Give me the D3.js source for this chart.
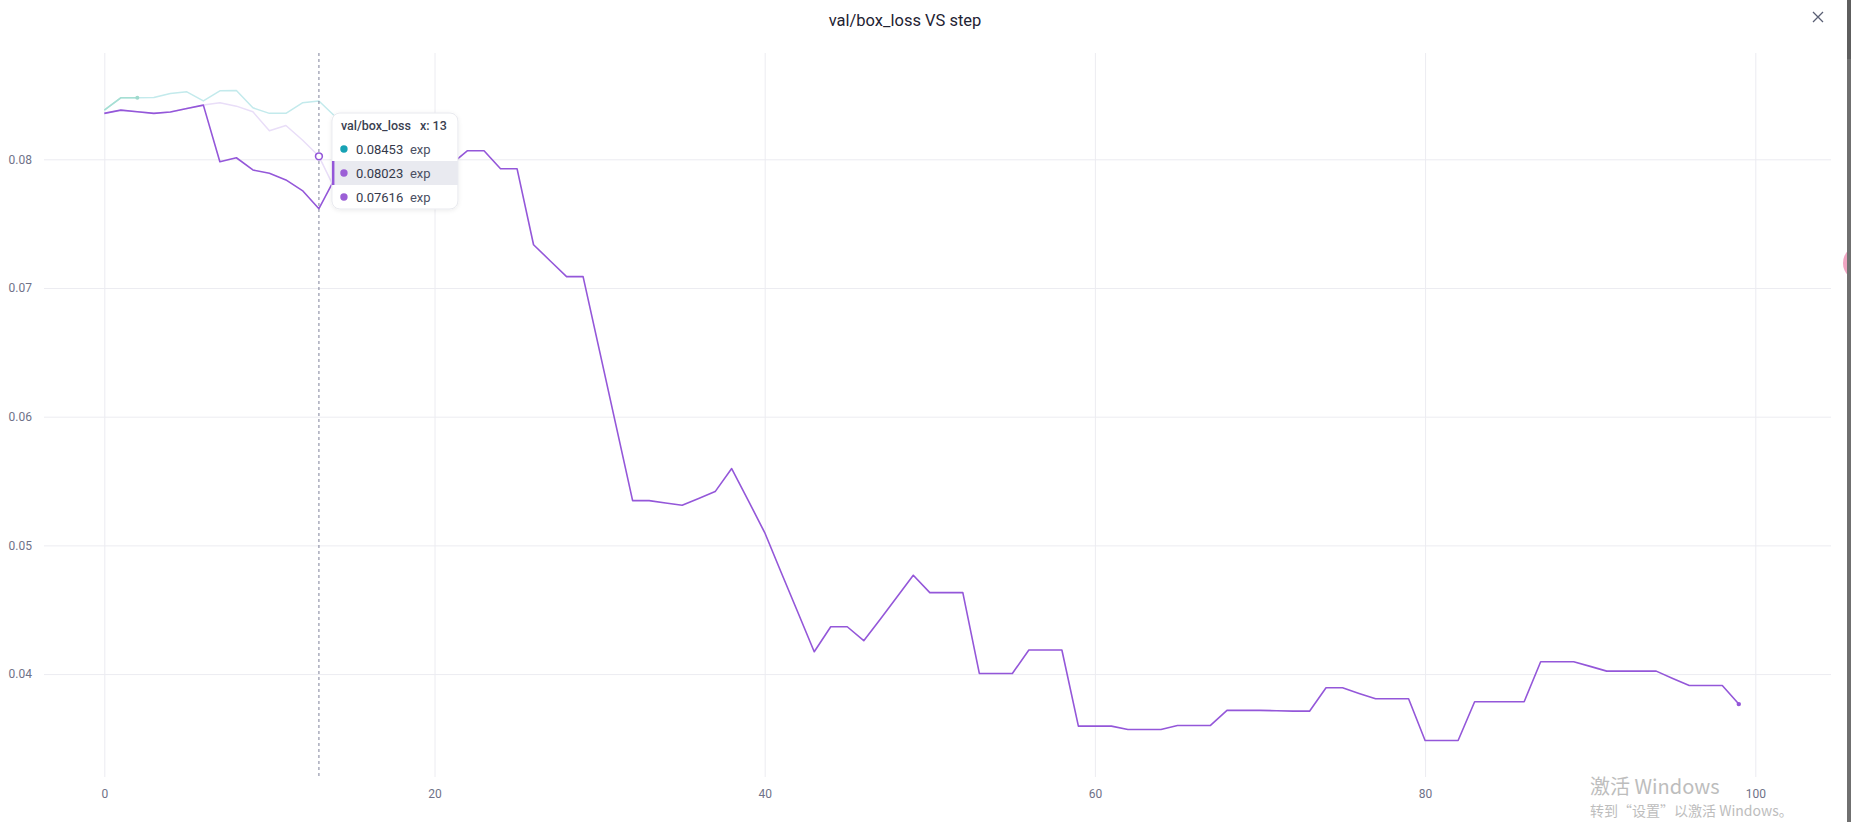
<!DOCTYPE html>
<html>
<head>
<meta charset="utf-8">
<script src="https://cdn.jsdelivr.net/npm/d3@7"></script>
<style>
  html, body { margin: 0; padding: 0; background: #fff; overflow: hidden; }
  svg { display: block; font-family: Roboto, "Noto Sans", sans-serif; }
</style>
</head>
<body>
<svg id="chart" width="1851" height="822"></svg>
<script>
// ---------------- DATA ----------------
const chartTitle = "val/box_loss VS step";
const metricName = "val/box_loss";
const hoverStep = 13;
const xTicks = [0, 20, 40, 60, 80, 100];
const yTicks = [0.04, 0.05, 0.06, 0.07, 0.08];

// main run (purple, full length)
const lossMain = [
  0.08357, 0.08382, 0.08370, 0.08357, 0.08367, 0.08395, 0.08421, 0.07981, 0.08012, 0.07917,
  0.07891, 0.07840, 0.07757, 0.07616, 0.07860, 0.07900, 0.07930, 0.07970, 0.08000, 0.07970,
  0.07950, 0.07960, 0.08067, 0.08067, 0.07927, 0.07927, 0.07336, 0.07212, 0.07088, 0.07088,
  0.06510, 0.05929, 0.05348, 0.05348, 0.05330, 0.05312, 0.05364, 0.05418, 0.05597, 0.05350,
  0.05100, 0.04789, 0.04483, 0.04174, 0.04368, 0.04368, 0.04260, 0.04427, 0.04597, 0.04768,
  0.04633, 0.04633, 0.04633, 0.04005, 0.04005, 0.04005, 0.04187, 0.04187, 0.04187, 0.03596,
  0.03596, 0.03596, 0.03570, 0.03570, 0.03570, 0.03601, 0.03601, 0.03601, 0.03718, 0.03718,
  0.03718, 0.03715, 0.03712, 0.03712, 0.03894, 0.03894, 0.03850, 0.03808, 0.03808, 0.03808,
  0.03484, 0.03484, 0.03484, 0.03785, 0.03785, 0.03785, 0.03785, 0.04096, 0.04096, 0.04096,
  0.04060, 0.04023, 0.04023, 0.04023, 0.04023, 0.03966, 0.03912, 0.03912, 0.03912, 0.03767
];
// faded teal run (short)
const lossTeal = [
  0.08382, 0.08478, 0.08478, 0.08480, 0.08512, 0.08524, 0.08454, 0.08532, 0.08535, 0.08400,
  0.08357, 0.08357, 0.08439, 0.08453, 0.08330, 0.08260
];
// faded purple run (short)
const lossLilac = [
  0.08357, 0.08382, 0.08370, 0.08357, 0.08367, 0.08395, 0.08421, 0.08439, 0.08413, 0.08369,
  0.08222, 0.08263, 0.08150, 0.08023, 0.07760
];
const runLabels = ["exp", "exp", "exp"];

// ---------------- CHART ----------------
const svg = d3.select("#chart");
const x = d3.scaleLinear().domain([0, 100]).range([104.3, 1755.3]);
const y = d3.scaleLinear().domain([0.04, 0.08]).range([674.1, 159.3]);
const plotTop = 53, plotBottom = 777, gridLeft = 44, gridRight = 1831;

// vertical grid
svg.append("g")
  .attr("transform", `translate(0,${plotBottom})`)
  .call(d3.axisBottom(x).tickValues(xTicks).tickSize(-(plotBottom - plotTop)).tickFormat(""))
  .call(g => g.select(".domain").remove())
  .call(g => g.selectAll("line").attr("stroke", "#ececf1").attr("stroke-width", 1));

// horizontal grid
svg.append("g")
  .attr("transform", `translate(${gridLeft},0)`)
  .call(d3.axisLeft(y).tickValues(yTicks).tickSize(-(gridRight - gridLeft)).tickFormat(""))
  .call(g => g.select(".domain").remove())
  .call(g => g.selectAll("line").attr("stroke", "#ececf1").attr("stroke-width", 1));

// y labels
svg.append("g")
  .attr("transform", `translate(32,0)`)
  .call(d3.axisLeft(y).tickValues(yTicks).tickSize(0).tickPadding(0).tickFormat(d3.format(".2f")))
  .call(g => g.select(".domain").remove())
  .call(g => g.selectAll("text").attr("font-size", 12).attr("fill", "#6f7288")
      .attr("font-family", "Roboto, sans-serif"));

// x labels
svg.append("g")
  .attr("transform", `translate(0,789)`)
  .call(d3.axisBottom(x).tickValues(xTicks).tickSize(0).tickPadding(0).tickFormat(d3.format("d")))
  .call(g => g.select(".domain").remove())
  .call(g => g.selectAll("text").attr("font-size", 12).attr("fill", "#6f7288")
      .attr("font-family", "Roboto, sans-serif"));

const line = d3.line().x((d, i) => x(i)).y(d => y(d));

svg.append("path").datum(lossTeal).attr("d", line)
  .attr("fill", "none").attr("stroke", "#c3eaec").attr("stroke-width", 1.5)
  .attr("stroke-linejoin", "round");
// slightly greener start of the teal run
svg.append("path").datum(lossTeal.slice(0, 3)).attr("d", line)
  .attr("fill", "none").attr("stroke", "#a6dfd3").attr("stroke-width", 1.5);
svg.append("circle").attr("cx", x(2)).attr("cy", y(lossTeal[2])).attr("r", 2).attr("fill", "#9fdacd");

svg.append("path").datum(lossLilac).attr("d", line)
  .attr("fill", "none").attr("stroke", "#e9def8").attr("stroke-width", 1.5)
  .attr("stroke-linejoin", "round");

svg.append("path").datum(lossMain).attr("d", line)
  .attr("fill", "none").attr("stroke", "#9457d9").attr("stroke-width", 1.6)
  .attr("stroke-linejoin", "round");
svg.append("circle").attr("cx", x(lossMain.length - 1)).attr("cy", y(lossMain[lossMain.length - 1]))
  .attr("r", 2.2).attr("fill", "#9457d9");

// hover line
svg.append("line")
  .attr("x1", x(hoverStep)).attr("x2", x(hoverStep))
  .attr("y1", plotTop).attr("y2", plotBottom)
  .attr("stroke", "#7e8199").attr("stroke-width", 1).attr("stroke-dasharray", "3,3");

svg.append("circle").attr("cx", x(hoverStep)).attr("cy", y(lossLilac[hoverStep]))
  .attr("r", 3.4).attr("fill", "#fff").attr("stroke", "#9457d9").attr("stroke-width", 1.6);

// tooltip
const defs = svg.append("defs");
const f = defs.append("filter").attr("id", "sh").attr("x", "-20%").attr("y", "-20%").attr("width", "140%").attr("height", "140%");
f.append("feDropShadow").attr("dx", 0).attr("dy", 1).attr("stdDeviation", 2).attr("flood-color", "#000").attr("flood-opacity", 0.08);

const tipX = x(hoverStep) + 13, tipY = 113, tipW = 126, tipH = 96;
const tip = svg.append("g").attr("transform", `translate(${tipX},${tipY})`);
tip.append("rect").attr("width", tipW).attr("height", tipH).attr("rx", 8)
  .attr("fill", "#fff").attr("stroke", "#e8e9ee").attr("filter", "url(#sh)");
tip.append("text").attr("x", 9).attr("y", 16.5).attr("font-size", 12.5).attr("font-weight", 500)
  .attr("fill", "#3b3f51").text(metricName);
tip.append("text").attr("x", 88).attr("y", 16.5).attr("font-size", 12.5).attr("font-weight", 500)
  .attr("fill", "#3b3f51").text("x: " + hoverStep);

const tipRows = [
  { v: lossTeal[hoverStep], c: "#17a2b4", hl: false },
  { v: lossLilac[hoverStep], c: "#9b5fd6", hl: true },
  { v: lossMain[hoverStep], c: "#9b5fd6", hl: false }
];
tipRows.forEach((r, i) => {
  const cy = 36 + i * 24;
  if (r.hl) {
    tip.append("rect").attr("x", 0).attr("y", cy - 12).attr("width", tipW).attr("height", 24).attr("fill", "#e9eaf0");
    tip.append("rect").attr("x", 0).attr("y", cy - 12).attr("width", 2.5).attr("height", 24).attr("fill", "#9457d9");
  }
  tip.append("circle").attr("cx", 12).attr("cy", cy).attr("r", 3.7).attr("fill", r.c);
  tip.append("text").attr("x", 24).attr("y", cy + 4.8).attr("font-size", 13).attr("font-weight", 400)
    .attr("fill", "#35394b").text(d3.format(".5f")(r.v));
  tip.append("text").attr("x", 78).attr("y", cy + 4.8).attr("font-size", 13)
    .attr("fill", "#4c5064").text(runLabels[i]);
});

// title
svg.append("text").attr("x", 905).attr("y", 26).attr("text-anchor", "middle")
  .attr("font-size", 16.5).attr("fill", "#1f2333").text(chartTitle);

// close icon
const cx0 = 1818, cy0 = 17;
svg.append("path").attr("d", `M${cx0-5},${cy0-5}L${cx0+5},${cy0+5}M${cx0+5},${cy0-5}L${cx0-5},${cy0+5}`)
  .attr("stroke", "#5a5f74").attr("stroke-width", 1.3).attr("fill", "none");

// right edge decorations
svg.append("circle").attr("cx", 1861).attr("cy", 263).attr("r", 18).attr("fill", "#ee9bbb").attr("opacity", 0.9);
svg.append("rect").attr("x", 1847).attr("y", 0).attr("width", 4).attr("height", 822).attr("fill", "#707070");
svg.append("rect").attr("x", 1847).attr("y", 0).attr("width", 4).attr("height", 59).attr("fill", "#5e5e5e");

// watermark
svg.append("text").attr("x", 1590).attr("y", 794).attr("font-size", 20)
  .attr("font-family", "'Noto Sans CJK SC', sans-serif").attr("fill", "#bdbdbd").text("激活 Windows");
svg.append("text").attr("x", 1590).attr("y", 816).attr("font-size", 14)
  .attr("font-family", "'Noto Sans CJK SC', sans-serif").attr("fill", "#bdbdbd").text("转到“设置”以激活 Windows。");
</script>
</body>
</html>
